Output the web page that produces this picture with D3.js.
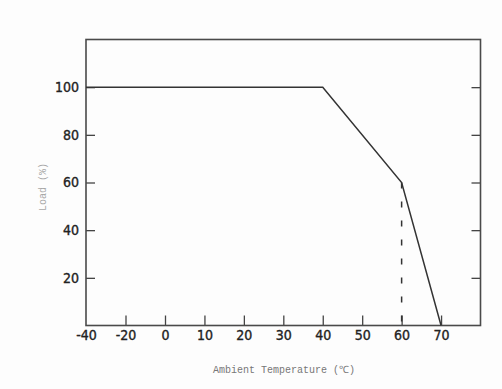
<!DOCTYPE html>
<html>
<head>
<meta charset="utf-8">
<script src="https://cdn.jsdelivr.net/npm/d3@7"></script>
<style>
  html, body { margin: 0; padding: 0; background: #fdfdfd; }
  .tick text { font-family: "DejaVu Sans Condensed", "Liberation Sans", sans-serif; font-size: 14px; fill: #222; stroke: #222; stroke-width: 0.35px; }
  .tick line { stroke: #444; stroke-width: 1.3; }
  .title { font-family: "Liberation Mono", "DejaVu Sans Mono", monospace; font-size: 10px; }
</style>
</head>
<body>
<svg id="chart" width="502" height="389"></svg>
<script>
// tick labels
const tempTicks = [-40, -20, 0, 10, 20, 30, 40, 50, 60, 70];
const loadTicks = [20, 40, 60, 80, 100];

// derating curve
const curveTemp = [-40, 40, 60, 70];
const curveLoad = [100, 100, 60, 0];

// dashed marker down from the knee
const markerTemp = [60, 60];
const markerLoad = [60, 0];

const svg = d3.select("#chart");
const plotLeft = 86, plotRight = 480.5, plotTop = 39.5, plotBottom = 325.5;

// the x axis is squeezed below 0: -40 and -20 sit one step apart like 0 and 10
const x = d3.scaleLinear().domain([-40, 0, 80]).range([plotLeft, 165, plotRight]);
const y = d3.scaleLinear().domain([0, 120]).range([plotBottom, plotTop]);

svg.append("g")
  .attr("transform", `translate(0,${plotBottom})`)
  .call(d3.axisBottom(x).tickValues(tempTicks).tickSizeInner(-10).tickSizeOuter(0).tickPadding(5).tickFormat(d => String(d)))
  .call(g => g.select(".domain").remove())
  .call(g => g.selectAll(".tick").filter(d => d === -40).select("line").remove());

svg.append("g")
  .attr("transform", `translate(${plotLeft},0)`)
  .call(d3.axisLeft(y).tickValues(loadTicks).tickSizeInner(-9).tickSizeOuter(0).tickPadding(7))
  .call(g => g.select(".domain").remove());

svg.append("g")
  .attr("transform", `translate(${plotRight},0)`)
  .call(d3.axisRight(y).tickValues(loadTicks).tickSizeInner(-9).tickSizeOuter(0).tickFormat(""))
  .call(g => g.select(".domain").remove());

// frame
svg.append("rect")
  .attr("x", plotLeft).attr("y", plotTop)
  .attr("width", plotRight - plotLeft).attr("height", plotBottom - plotTop)
  .attr("fill", "none").attr("stroke", "#4a4a4a").attr("stroke-width", 1.6);

const line = d3.line().x(d => x(d[0])).y(d => y(d[1]));

svg.append("path")
  .datum(d3.zip(markerTemp, markerLoad))
  .attr("d", line)
  .attr("fill", "none").attr("stroke", "#333").attr("stroke-width", 1.5)
  .attr("stroke-dasharray", "6,13");

svg.append("path")
  .datum(d3.zip(curveTemp, curveLoad))
  .attr("d", line)
  .attr("fill", "none").attr("stroke", "#333").attr("stroke-width", 1.5);

// axis titles
svg.append("text")
  .attr("class", "title")
  .attr("x", 284).attr("y", 373)
  .attr("text-anchor", "middle").attr("fill", "#777")
  .text("Ambient Temperature (℃)");

svg.append("text")
  .attr("class", "title")
  .attr("transform", "translate(46,187) rotate(-90)")
  .attr("text-anchor", "middle").attr("fill", "#a8a8a8")
  .text("Load (%)");
</script>
</body>
</html>
